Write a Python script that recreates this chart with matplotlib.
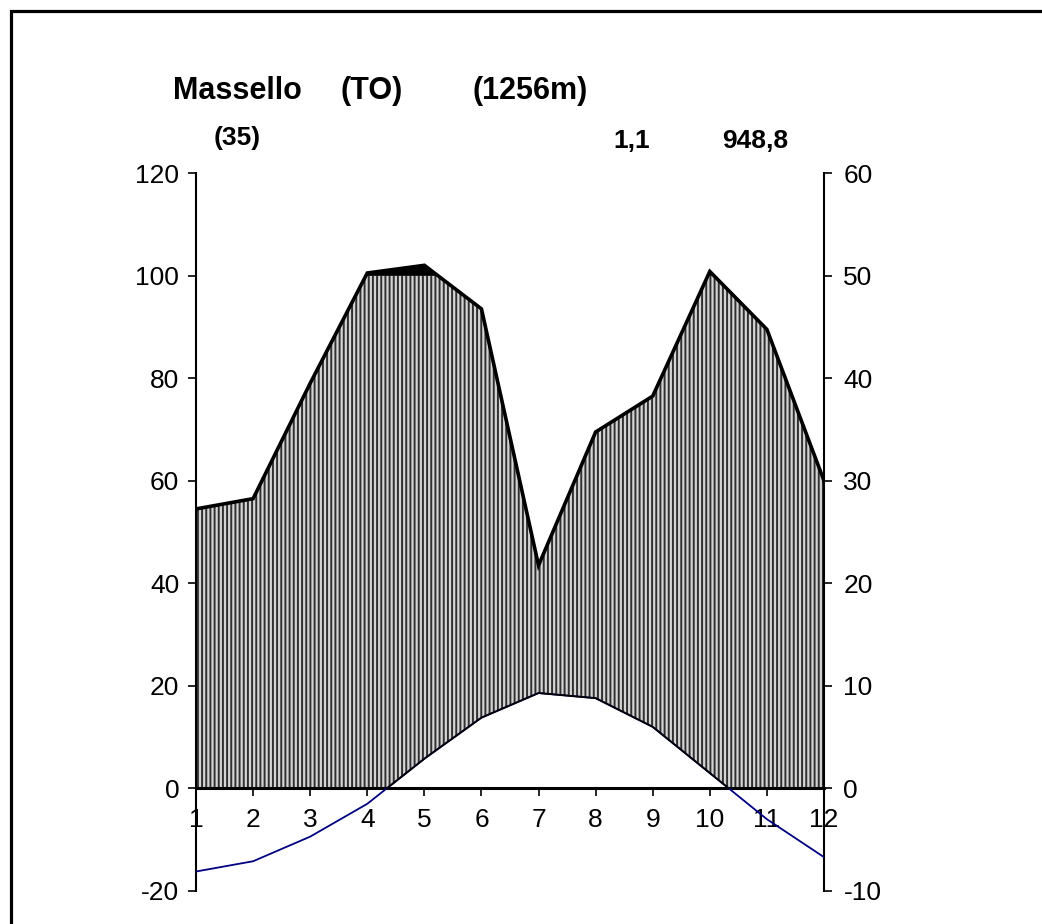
import numpy as np
import matplotlib
matplotlib.use("Agg")
import matplotlib.pyplot as plt
from matplotlib.patches import Rectangle

# ---- data ----
months = [1, 2, 3, 4, 5, 6, 7, 8, 9, 10, 11, 12]
precip = [54.5, 56.5, 79.0, 100.5, 102.0, 93.5, 43.5, 69.5, 76.5, 100.8, 89.5, 60.0]
temp = [-8.1, -7.1, -4.7, -1.5, 2.9, 6.9, 9.3, 8.8, 6.0, 1.5, -3.0, -6.7]
month_labels = ["1", "2", "3", "4", "5", "6", "7", "8", "9", "10", "11", "12"]
left_ticks = [-20, 0, 20, 40, 60, 80, 100, 120]
right_ticks = [-10, 0, 10, 20, 30, 40, 50, 60]
station = "Massello"
province = "(TO)"
altitude = "(1256m)"
years = "(35)"
mean_temp = "1,1"
total_prec = "948,8"

plt.rcParams['font.family'] = ['Liberation Sans', 'DejaVu Sans']
plt.rcParams['hatch.linewidth'] = 1.4
plt.rcParams['axes.unicode_minus'] = False

fig = plt.figure(figsize=(10.42, 9.24), dpi=100)
fig.patch.set_facecolor('white')

ax = fig.add_axes([196/1042, 1-891/924, (824-196)/1042, (891-173)/924])
ax2 = ax.twinx()

m = np.array(months, dtype=float)
P = np.array(precip, dtype=float)
T = np.array(temp, dtype=float)

# dense grid for piecewise-linear rendering of fills (vertices at months)
xd = np.linspace(1, 12, 1101)
Pd = np.interp(xd, m, P)
Td = np.interp(xd, m, T)
low = np.maximum(2 * Td, 0)
up = np.minimum(Pd, 100)

ax.fill_between(xd, low, up, facecolor='#d4d4d4', edgecolor='#303030',
                hatch='||||', linewidth=0, zorder=1)
ax.fill_between(xd, 100, Pd, where=Pd > 100, facecolor='black',
                edgecolor='black', linewidth=0.5, zorder=2)
ax.plot(m, P, color='black', lw=2.6, zorder=4, solid_joinstyle='miter')

ax.set_xlim(1, 12)
ax.set_ylim(-20, 120)
ax2.set_ylim(-10, 60)

# temperature line (blue) and black boundary where above zero
ax2.plot(m, T, color='#000080', lw=1.3, zorder=3)
Tpos = np.where(Td > 0, Td, np.nan)
ax2.plot(xd, Tpos, color='black', lw=1.3, zorder=4)

ax.set_yticks(left_ticks)
ax2.set_yticks(right_ticks)
ax.set_xticks(months)
ax.set_xticklabels(month_labels)

for a in (ax, ax2):
    a.spines['top'].set_visible(False)
    a.patch.set_visible(False)
ax.spines['bottom'].set_position(('data', 0))
ax.spines['bottom'].set_linewidth(2.2)
ax.spines['bottom'].set_zorder(5)
ax.spines['left'].set_linewidth(1.5)
ax.spines['right'].set_visible(False)
ax2.spines['left'].set_visible(False)
ax2.spines['bottom'].set_visible(False)
ax2.spines['right'].set_linewidth(1.5)

ax.tick_params(axis='y', direction='out', length=6, width=1.2, labelsize=19, pad=6)
ax.tick_params(axis='x', direction='out', length=6, width=1.2, labelsize=19, pad=8)
ax2.tick_params(axis='y', direction='out', length=6, width=1.2, labelsize=19, pad=8)

# titles
fig.text(173/1042, 1-99/924, station, fontsize=22, fontweight='bold', va='baseline', ha='left')
fig.text(340/1042, 1-99/924, province, fontsize=22, fontweight='bold', va='baseline', ha='left')
fig.text(473/1042, 1-99/924, altitude, fontsize=22, fontweight='bold', va='baseline', ha='left')
fig.text(214/1042, 1-145/924, years, fontsize=19, fontweight='bold', va='baseline', ha='left')
fig.text(613/1042, 1-148/924, mean_temp, fontsize=19, fontweight='bold', va='baseline', ha='left')
fig.text(722/1042, 1-148/924, total_prec, fontsize=19, fontweight='bold', va='baseline', ha='left')

# outer frame
fig.add_artist(Rectangle((11/1042, -0.1), 1.2, 1 - 11/924 + 0.1, transform=fig.transFigure,
                         fill=False, edgecolor='black', linewidth=2.3))

fig.savefig('out.png', dpi=100, facecolor='white')
